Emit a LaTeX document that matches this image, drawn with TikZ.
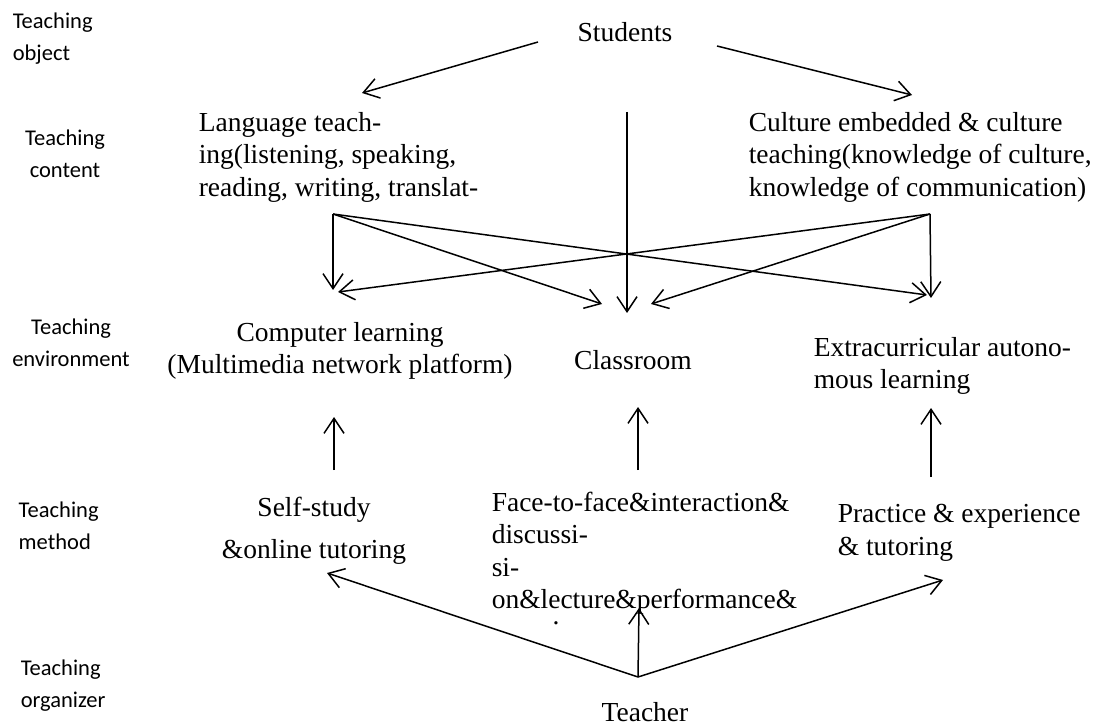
\documentclass[tikz,border=0pt]{standalone}
\usepackage{fontspec}
\setmainfont{Liberation Serif}
\newfontfamily\labelfont{Carlito}
\usetikzlibrary{arrows.meta}
\tikzset{>={Straight Barb[length=15pt,width=20pt]}}

\begin{document}
\begin{tikzpicture}[
    x=1pt, y=-1pt,
    line width=1.5pt,
    txt/.style={font=\fontsize{27.5}{32.5}\selectfont, inner sep=0pt},
    rowtitle/.style={font=\labelfont\fontsize{22.5}{32}\selectfont, inner sep=0pt}
]
\useasboundingbox (0,0) rectangle (1096,722);

% row titles on the left
\node[rowtitle, anchor=west, align=left] (tobject) at (12,39) {Teaching\\object};
\node[rowtitle, align=center] (tcontent) at (65,154) {Teaching\\content};
\node[rowtitle, align=center] (tenviron) at (71,343) {Teaching\\environment};
\node[rowtitle, anchor=west, align=left] (tmethod) at (18,526) {Teaching\\method};
\node[rowtitle, anchor=west, align=left] (torganizer) at (20,686) {Teaching\\organizer};

% students and content
\node[txt] (students) at (625,32) {Students};
\node[txt, anchor=west, align=left] (language) at (198,157) {Language teach-\\ing(listening, speaking,\\reading, writing, translat-};
\node[txt, anchor=west, align=left] (culture) at (748,157) {Culture embedded \& culture\\teaching(knowledge of culture,\\knowledge of communication)};

% environment
\node[txt, align=center] (computer) at (340,351) {Computer learning\\(Multimedia network platform)};
\node[txt] (classroom) at (633,360) {Classroom};
\node[txt, anchor=west, align=left] (extra) at (813,366) {Extracurricular autono-\\mous learning};

% method
\node[txt, align=center] (selfstudy) at (314,531) {Self-study\\[10pt]\&online tutoring};
\node[txt, anchor=west, align=left] (facetoface) at (491,553) {Face-to-face\&interaction\&\\discussi-\\si-\\on\&lecture\&performance\&};
\node[txt] (facedot) at (556,623) {.};
\node[txt, anchor=west, align=left] (practice) at (837,533) {Practice \& experience\\\& tutoring};

% organizer
\node[txt] (teacher) at (645,712) {Teacher};

\coordinate (stuleft) at (538,42);
\coordinate (sturight) at (717,46);
\coordinate (stumid) at (627,112);
\coordinate (langtip) at (362,93);
\coordinate (culttip) at (912,95);

\draw[->] (stuleft) -- (langtip);
\draw[->] (sturight) -- (culttip);
\draw[->] (stumid) -- (627,313) coordinate (roomtip);

\coordinate (langout) at (333,214);
\coordinate (cultout) at (930,214);

\draw[->] (langout) -- (333,290) coordinate (comptip);
\draw[->] (langout) -- (602,304) coordinate (roomtipl);
\draw[->] (langout) -- (927,295) coordinate (extratipl);
\draw[->] (cultout) -- (931,298) coordinate (extratip);
\draw[->] (cultout) -- (651,304) coordinate (roomtipr);
\draw[->] (cultout) -- (338,292) coordinate (comptipr);

\coordinate (selfup) at (334,470);
\coordinate (faceup) at (638,470);
\coordinate (pracup) at (931,477);
\draw[->] (selfup) -- (334,417);
\draw[->] (faceup) -- (638,407);
\draw[->] (pracup) -- (931,408);

\coordinate (teachtop) at (638,677);
\draw[->] (teachtop) -- (327,573);
\draw[->] (teachtop) -- (639,608);
\draw[->] (teachtop) -- (943,580);

\end{tikzpicture}
\end{document}
